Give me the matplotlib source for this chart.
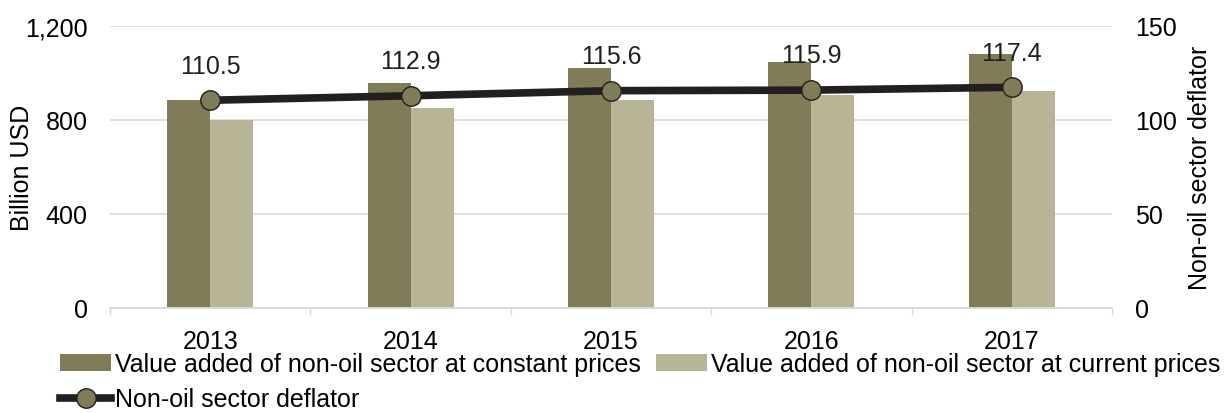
import matplotlib.pyplot as plt
import matplotlib.ticker as mticker
import numpy as np

plt.rcParams['font.family'] = ['Liberation Sans', 'DejaVu Sans']

years = ['2013', '2014', '2015', '2016', '2017']
constant_prices = [885, 956, 1020, 1046, 1080]
current_prices = [800, 850, 884, 905, 922]
deflator = [110.5, 112.9, 115.6, 115.9, 117.4]

c_const = '#7f7c57'
c_curr = '#b8b597'
c_line = '#231f20'
c_grid = '#d9d9d9'
fs = 18

fig = plt.figure(figsize=(12.27, 4.14), dpi=100)
ax = fig.add_axes([110 / 1227, 1 - 309 / 414, 1002 / 1227, 282 / 414])
ax2 = ax.twinx()

x = np.arange(len(years))
w = 0.215
b1 = ax.bar(x - w / 2, constant_prices, w, color=c_const, zorder=2,
            label='Value added of non-oil sector at constant prices')
b2 = ax.bar(x + w / 2, current_prices, w, color=c_curr, zorder=2,
            label='Value added of non-oil sector at current prices')

ln, = ax2.plot(x, deflator, color=c_line, lw=5.5, marker='o', ms=14,
               mfc=c_const, mec=c_line, mew=1.0, zorder=3,
               label='Non-oil sector deflator')
for xi, v in zip(x, deflator):
    ax2.annotate(f'{v:.1f}', (xi, v), xytext=(0, 25), textcoords='offset points',
                 ha='center', va='center', fontsize=fs, color='#231f20')

ax.set_xlim(-0.5, len(years) - 0.5)
ax.set_ylim(0, 1200)
ax2.set_ylim(0, 150)
ax.set_yticks([0, 400, 800, 1200])
ax2.set_yticks([0, 50, 100, 150])
ax.yaxis.set_major_formatter(mticker.StrMethodFormatter('{x:,.0f}'))

ax.set_xticks(x)
ax.set_xticklabels(years)
ax.set_xticks(np.arange(-0.5, len(years)), minor=True)
ax.tick_params(axis='x', which='major', length=0, pad=15, labelsize=fs)
ax.tick_params(axis='x', which='minor', length=5, color=c_grid, width=1)
ax.tick_params(axis='y', length=0, pad=16, labelsize=fs)
ax2.tick_params(axis='y', length=0, pad=16.5, labelsize=fs)

ax.yaxis.grid(True, color=c_grid, lw=1.2, zorder=0)
ax.set_axisbelow(True)
for a in (ax, ax2):
    for s in ('top', 'left', 'right'):
        a.spines[s].set_visible(False)
    a.spines['bottom'].set_color(c_grid)
    a.spines['bottom'].set_linewidth(1.2)

ax.set_ylabel('Billion USD', fontsize=fs)
ax2.set_ylabel('Non-oil sector deflator', fontsize=fs)
ax.yaxis.set_label_coords((34 - 110) / 1002, 0.5)
ax2.yaxis.set_label_coords((1188 - 110) / 1002, 0.5)

fig.legend(handles=[b1, ln, b2], ncol=2, loc='upper left',
           bbox_to_anchor=(60 / 1227, 1 - 353 / 414), frameon=False,
           fontsize=fs, handlelength=2.05, handleheight=0.7, handletextpad=0.15,
           columnspacing=0.6, labelspacing=0.45, borderaxespad=0, borderpad=0)

fig.savefig('out.png', dpi=100)
